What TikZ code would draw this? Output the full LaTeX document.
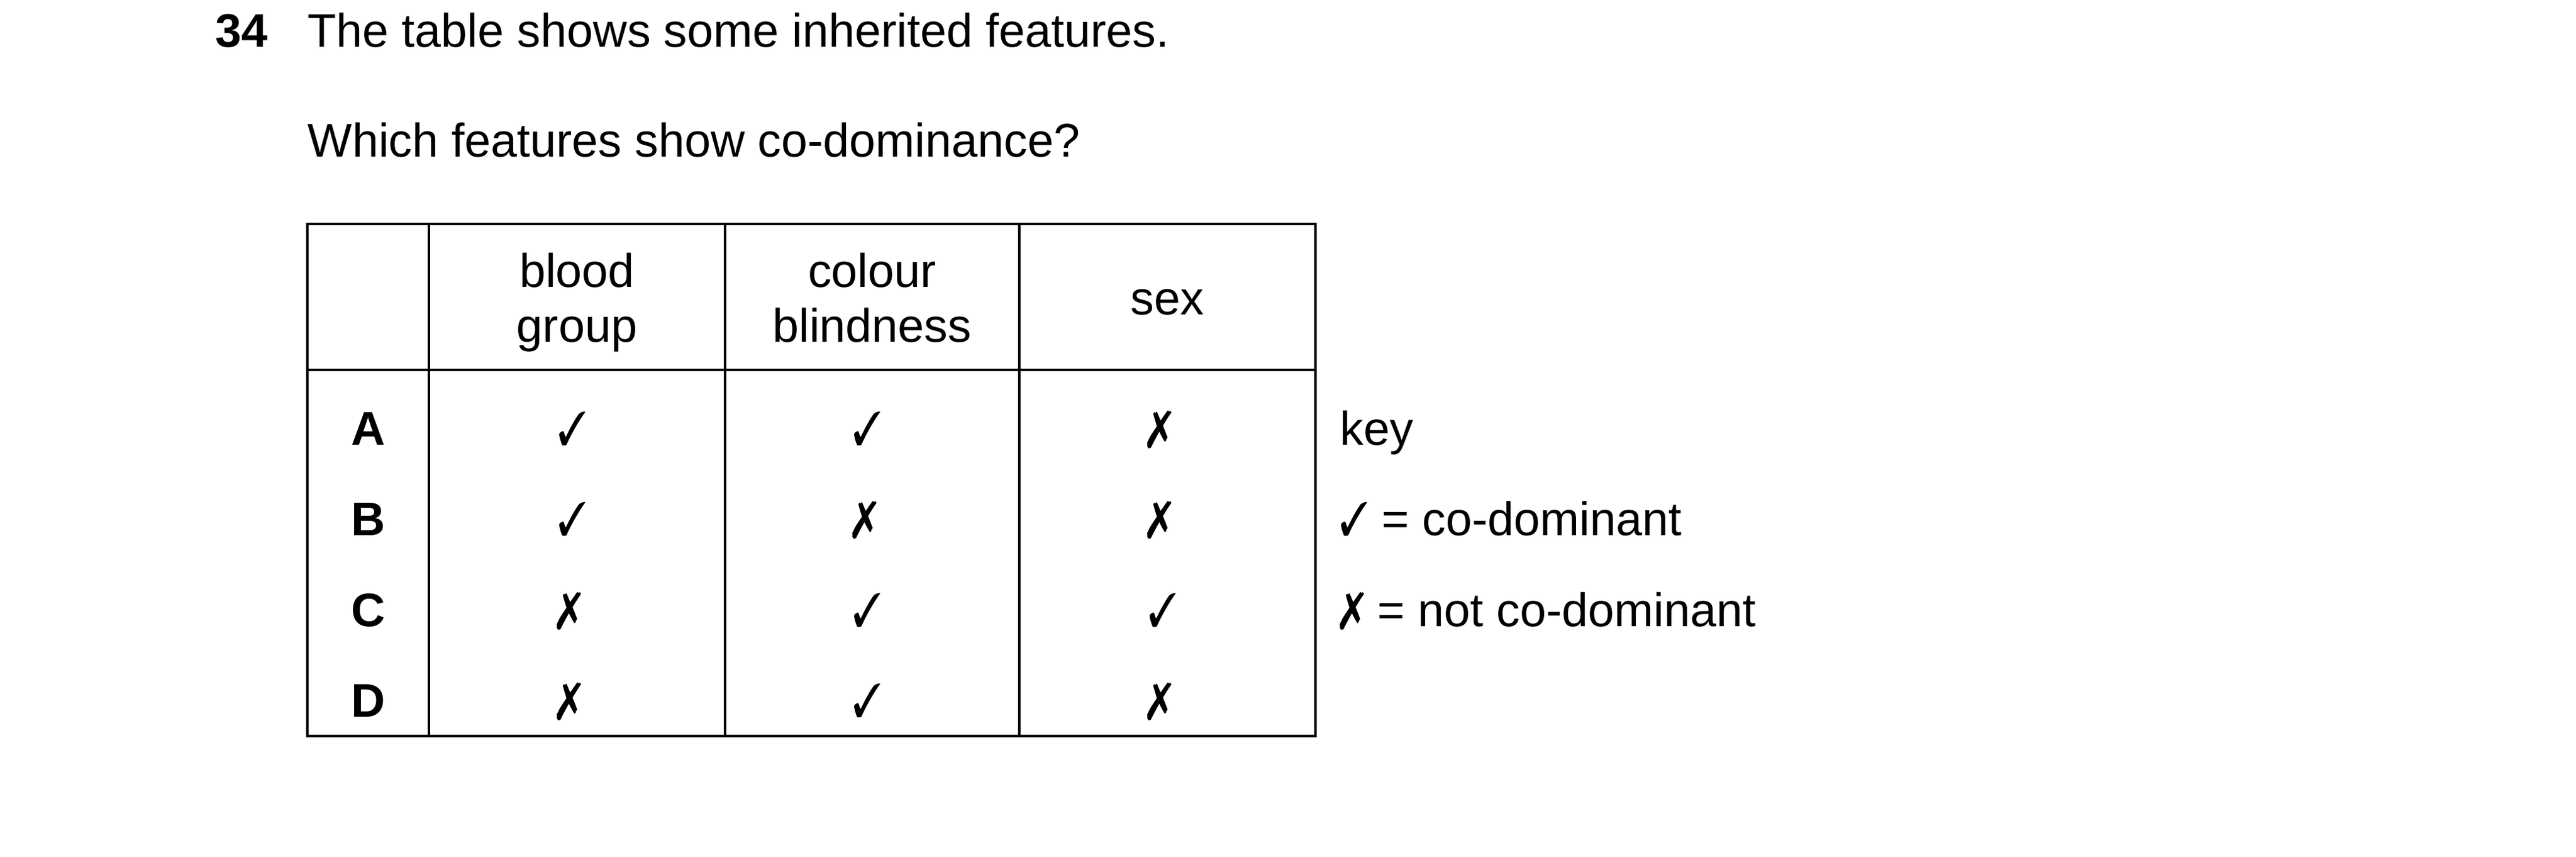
\documentclass[tikz,border=0pt]{standalone}
\usepackage{fontspec}
\setmainfont{Liberation Sans}
\usepackage{pifont}
\newcommand{\cmark}{\scalebox{0.8}[1]{\ding{51}}}
\newcommand{\xmark}{\scalebox{0.9}[1.1]{\ding{55}}}

\begin{document}
\begin{tikzpicture}[
  every node/.style={inner sep=0pt, font=\fontsize{21.5}{25}\selectfont},
  cell/.style={anchor=base},
  head/.style={align=center, anchor=north},
  rowname/.style={anchor=base, font=\fontsize{21.5}{25}\selectfont\bfseries},
  keytext/.style={anchor=base west},
  tableline/.style={line width=1pt}
]

% Page size
\useasboundingbox (0,0) rectangle (41.32,-13.73);

% Question text
\node[anchor=base west, font=\fontsize{21.5}{25}\selectfont\bfseries] (num) at (3.45,-0.75) {34};
\node[anchor=base west] (stem) at (4.93,-0.75) {The table shows some inherited features.};
\node[anchor=base west] (ask) at (4.93,-2.51) {Which features show co-dominance?};

% Table frame
\coordinate (tl) at (4.93,-3.59); % top left corner
\coordinate (br) at (21.10,-11.80); % bottom right corner
\draw[tableline] (tl) rectangle (br);
\draw[tableline] (4.93,-5.93) -- (21.10,-5.93);
\draw[tableline] (6.88,-3.59) -- (6.88,-11.80);
\draw[tableline] (11.63,-3.59) -- (11.63,-11.80);
\draw[tableline] (16.35,-3.59) -- (16.35,-11.80);

% Column heads
\node[head] (blood) at (9.255,-4.05) {blood\\group};
\node[head] (colour) at (13.99,-4.05) {colour\\blindness};
\node[cell] (sex) at (18.725,-5.04) {sex};

% Row letters
\node[rowname] (rowA) at (5.905,-7.13) {A};
\node[rowname] (rowB) at (5.905,-8.585) {B};
\node[rowname] (rowC) at (5.905,-10.04) {C};
\node[rowname] (rowD) at (5.905,-11.495) {D};

% Row A
\node[cell] (a1) at (9.18,-7.13) {\cmark};
\node[cell] (a2) at (13.91,-7.13) {\cmark};
\node[cell] (a3) at (18.60,-7.13) {\xmark};

% Row B
\node[cell] (b1) at (9.18,-8.585) {\cmark};
\node[cell] (b2) at (13.87,-8.585) {\xmark};
\node[cell] (b3) at (18.60,-8.585) {\xmark};

% Row C
\node[cell] (c1) at (9.13,-10.04) {\xmark};
\node[cell] (c2) at (13.91,-10.04) {\cmark};
\node[cell] (c3) at (18.65,-10.04) {\cmark};

% Row D
\node[cell] (d1) at (9.13,-11.495) {\xmark};
\node[cell] (d2) at (13.91,-11.495) {\cmark};
\node[cell] (d3) at (18.60,-11.495) {\xmark};

% Key
\node[keytext] (key) at (21.49,-7.13) {key};
\node[keytext] (keyyes) at (21.49,-8.585) {\cmark{} = co-dominant};
\node[keytext] (keyno) at (21.49,-10.04) {\xmark{} = not co-dominant};

\end{tikzpicture}
\end{document}
